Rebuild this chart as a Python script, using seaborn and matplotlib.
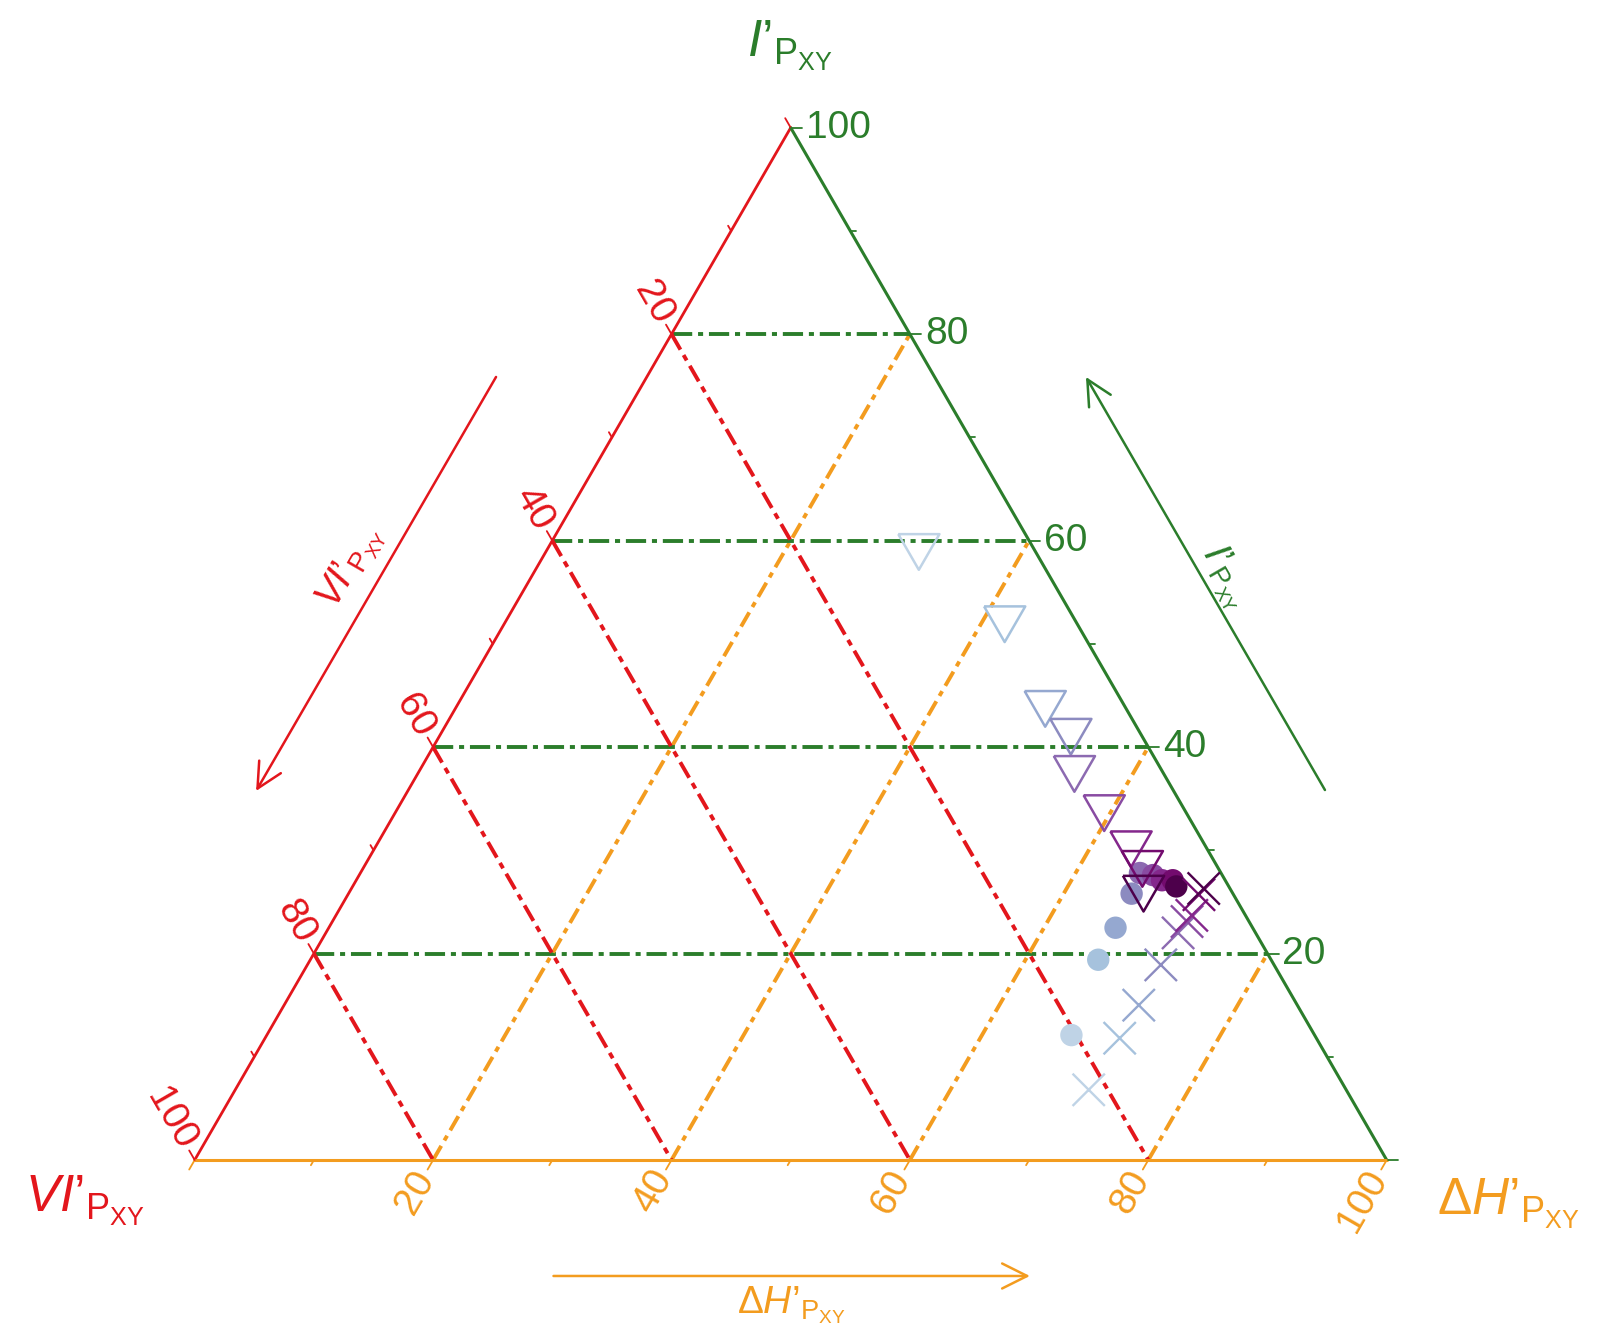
import numpy as np
import pandas as pd
import seaborn as sns
import matplotlib.pyplot as plt
from matplotlib.markers import MarkerStyle

# values (percent), step 1 = lightest .. 9 = darkest
steps = [1, 2, 3, 4, 5, 6, 7, 8, 9]

tri_I = [58.9, 51.9, 43.7, 41.0, 37.4, 33.6, 30.1, 28.2, 25.8]
tri_dH = [31.3, 42.0, 49.5, 53.0, 55.1, 59.5, 63.5, 65.4, 66.7]

dot_I = [12.1, 19.4, 22.5, 25.8, 27.8, 27.6, 27.1, 27.1, 26.5]
dot_dH = [67.5, 66.1, 66.0, 65.7, 65.4, 66.6, 67.6, 68.5, 69.1]

cross_I = [6.8, 11.8, 15.0, 18.9, 22.0, 23.1, 23.7, 25.7, 26.3]
cross_dH = [71.6, 71.7, 71.7, 71.6, 71.5, 71.7, 71.8, 71.4, 71.5]

major = [20, 40, 60, 80, 100]
ticks = list(range(0, 101, 10))

RED = "#e3161c"
GREEN = "#2b7d2b"
ORANGE = "#f39c1f"
SQ3 = np.sqrt(3) / 2


def tern(i, dh):
    # I' up to the top corner, dH' to the bottom-right, VI' = rest
    i = np.asarray(i, float)
    dh = np.asarray(dh, float)
    return dh / 100 + i / 200, SQ3 * i / 100


def frame(i, dh, name):
    x, y = tern(i, dh)
    return pd.DataFrame({"x": x, "y": y, "step": steps, "series": name})


sns.set_style("white")
plt.rcParams["font.family"] = ["Liberation Sans", "DejaVu Sans"]
plt.rcParams["mathtext.fontset"] = "custom"
plt.rcParams["mathtext.rm"] = "Liberation Sans"
plt.rcParams["mathtext.it"] = "Liberation Sans:italic"
plt.rcParams["mathtext.sf"] = "Liberation Sans"

fig = plt.figure(figsize=(16.07, 13.37), dpi=100)
ax = fig.add_axes([0, 0, 1, 1])
ax.set_xlim(-194.7 / 1192, (1607 - 194.7) / 1192)
ax.set_ylim(-177 / 1192, (1337 - 177) / 1192)
ax.axis("off")

# grid lines
for k in [20, 40, 60, 80]:
    x, y = tern([k, k], [0, 100 - k])
    ax.plot(x, y, color=GREEN, lw=2.8, dashes=(5.2, 1.5, 1.3, 1.5), zorder=1)
    x, y = tern([0, 100 - k], [k, k])
    ax.plot(x, y, color=ORANGE, lw=2.8, dashes=(4.2, 1.6, 1.4, 1.6), zorder=1)
    x, y = tern([k, 0], [0, k])
    ax.plot(x, y, color=RED, lw=2.8, dashes=(4.6, 1.6, 1.6, 1.6), zorder=1)

# triangle edges
x, y = tern([100, 0], [0, 0])
ax.plot(x, y, color=RED, lw=2, zorder=2)
x, y = tern([100, 0], [0, 100])
ax.plot(x, y, color=GREEN, lw=2.2, zorder=2)
x, y = tern([0, 0], [0, 100])
ax.plot(x, y, color=ORANGE, lw=2.2, zorder=2)

# ticks and tick labels
px = 1 / 1192
fs = 28
for k in ticks:
    ln = (11 if k % 20 == 0 else 6) * px
    # I' on the right edge
    x0, y0 = tern(k, 100 - k)
    ax.plot([x0, x0 + ln], [y0, y0], color=GREEN, lw=1.3)
    # dH' on the bottom edge
    x1, y1 = tern(0, k)
    ax.plot([x1, x1 - 0.5 * ln], [y1, y1 - SQ3 * ln], color=ORANGE, lw=1.3)
    # VI' on the left edge
    x2, y2 = tern(100 - k, 0)
    ax.plot([x2, x2 - 0.5 * ln], [y2, y2 + SQ3 * ln], color=RED, lw=1.3)
    if k in major:
        g = 15 * px
        ax.text(x0 + g, y0, str(k), color=GREEN, fontsize=fs, ha="left", va="center")
        ax.text(x1 - 0.5 * g, y1 - SQ3 * g, str(k), color=ORANGE, fontsize=fs,
                rotation=60, rotation_mode="anchor", ha="right", va="center")
        ax.text(x2 - 0.5 * g, y2 + SQ3 * g, str(k), color=RED, fontsize=fs,
                rotation=-60, rotation_mode="anchor", ha="right", va="center")

# data points
cols = [plt.cm.BuPu(v) for v in np.linspace(0.25, 1.0, 9)]
df_tri = frame(tri_I, tri_dH, "triangle")
df_dot = frame(dot_I, dot_dH, "circle")
df_cross = frame(cross_I, cross_dH, "cross")

tri_marker = MarkerStyle([(-1, 0.866), (1, 0.866), (0, -0.866), (-1, 0.866)])
sns.scatterplot(data=df_tri, x="x", y="y", hue="step", palette=cols, marker=tri_marker,
                s=880, linewidth=1.8, legend=False, ax=ax, zorder=4)
tri_coll = ax.collections[-1]
tri_coll.set_edgecolors(tri_coll.get_facecolors())
tri_coll.set_facecolors("none")

sns.scatterplot(data=df_dot, x="x", y="y", hue="step", palette=cols, marker="o",
                s=260, edgecolor="none", legend=False, ax=ax, zorder=3)
sns.scatterplot(data=df_cross, x="x", y="y", hue="step", palette=cols, marker="x",
                s=540, linewidth=1.7, legend=False, ax=ax, zorder=5)

# axis titles
sub = r"_{\mathrm{P}_{\mathrm{XY}}}$"
lab_I = "$I\u2019" + sub
lab_VI = "$VI\u2019" + sub
lab_dH = r"$\Delta " + "H\u2019" + sub
ax.text(0.4995, 0.935, lab_I, color=GREEN, fontsize=37, ha="center", va="center")
ax.text(-0.0925, -0.034, lab_VI, color=RED, fontsize=37, ha="center", va="center")
ax.text(1.1023, -0.037, lab_dH, color=ORANGE, fontsize=37, ha="center", va="center")

# direction arrows with labels
arrow = dict(arrowstyle="->", lw=1.8, mutation_scale=45, shrinkA=0, shrinkB=0)
ax.annotate("", xy=(0.0515, 0.3096), xytext=(0.2528, 0.6569),
            arrowprops=dict(arrow, color=RED))
ax.text(0.1313, 0.497, lab_VI, color=RED, fontsize=28, rotation=60,
        ha="center", va="center")
ax.annotate("", xy=(0.7477, 0.6569), xytext=(0.9482, 0.3104),
            arrowprops=dict(arrow, color=GREEN))
ax.text(0.8644, 0.489, lab_I, color=GREEN, fontsize=28, rotation=-60,
        ha="center", va="center")
ax.annotate("", xy=(0.7007, -0.0973), xytext=(0.301, -0.0973),
            arrowprops=dict(arrow, color=ORANGE))
ax.text(0.5004, -0.1215, lab_dH, color=ORANGE, fontsize=28, ha="center", va="center")

fig.savefig("out.png", dpi=100, facecolor="white")
